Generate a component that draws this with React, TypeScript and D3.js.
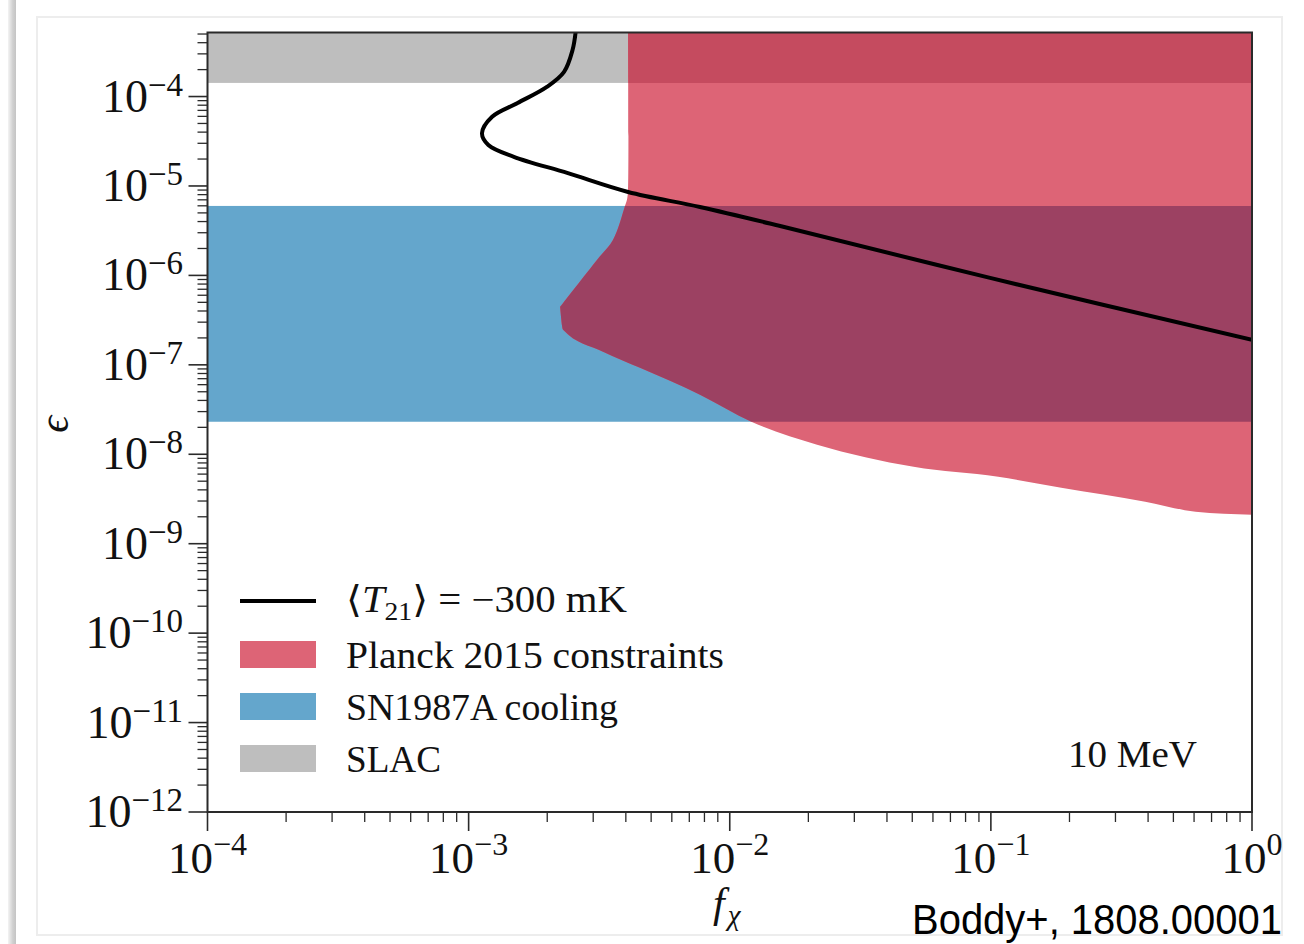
import React from "react";
import * as d3 from "d3";

// ---- data ----
const xTickExps = [-4, -3, -2, -1, 0];
const yTickExps = [-12, -11, -10, -9, -8, -7, -6, -5, -4];

const xDomain = [1e-4, 1];
const yDomain = [1e-12, 5.2e-4];

// <T21> = -300 mK curve
const t21F = [2.57e-3, 2.5e-3, 2.32e-3, 2.0e-3, 1.54e-3, 1.23e-3, 1.125e-3, 1.19e-3, 1.49e-3, 2.4e-3, 4.08e-3, 7.69e-3, 1.56e-2, 0.0993, 1.0];
const t21Eps = [5.3e-4, 3.31e-4, 1.89e-4, 1.29e-4, 8.46e-5, 5.94e-5, 3.88e-5, 2.87e-5, 2.12e-5, 1.39e-5, 8.57e-6, 5.82e-6, 3.57e-6, 9.37e-7, 1.9e-7];

// Planck 2015 excluded region: upper-left edge (down to the tip) and lower edge (from the tip)
const planckUpperF = [4.08e-3, 4.08e-3, 4.05e-3, 3.97e-3, 3.57e-3, 3.1e-3, 2.24e-3];
const planckUpperEps = [5.2e-4, 1e-5, 7.3e-6, 5.98e-6, 2.49e-6, 1.49e-6, 4.45e-7];
const planckLowerF = [2.24e-3, 2.3e-3, 3.27e-3, 4.53e-3, 7.69e-3, 1.21e-2, 2.16e-2, 5.06e-2, 0.1067, 0.186, 0.39, 0.608, 1.0];
const planckLowerEps = [4.45e-7, 2.46e-7, 1.4e-7, 9.25e-8, 4.62e-8, 2.31e-8, 1.28e-8, 7.25e-9, 5.6e-9, 4.23e-9, 2.95e-9, 2.28e-9, 2.11e-9];

// horizontal bands
const snBand = [2.31e-8, 5.98e-6];
const slacBand = [1.42e-4, 5.2e-4];

const legendLabels = ["Planck 2015 constraints", "SN1987A cooling", "SLAC"];
const legendColors = ["#dd6476", "#64a6cc", "#bebebe"];
const legendWidths = [378, 272, 95];

const COL = {
  red: "#dd6476",
  blue: "#64a6cc",
  gray: "#bebebe",
  purple: "#9c4162",
  darkRed: "#c54b5f",
};

const W = 1304;
const H = 944;
const L = 207.5, R = 1252, T = 32.5, B = 812;

const SERIF = "'Liberation Serif', 'DejaVu Serif', serif";

export default function App() {
  const x = d3.scaleLog().domain(xDomain).range([L, R]);
  const y = d3.scaleLog().domain(yDomain).range([B, T]);

  const curvePts: [number, number][] = t21F.map((f, i) => [x(f), y(t21Eps[i])]);
  const curvePath = d3.line().curve(d3.curveCatmullRom.alpha(0.5))(curvePts) || "";

  const upPts: [number, number][] = planckUpperF.map((f, i) => [x(f), y(planckUpperEps[i])]);
  const lowPts: [number, number][] = planckLowerF.map((f, i) => [x(f), y(planckLowerEps[i])]);
  const upPath = d3.line().curve(d3.curveCatmullRom.alpha(0.5))(upPts) || "";
  const lowPath = (d3.line().curve(d3.curveMonotoneX)(lowPts) || "").replace(/^M/, "L");
  const planckPath = `${upPath}${lowPath}L${x(1)},${y(yDomain[1])}Z`;

  const xMinor: number[] = [];
  for (let e = -4; e < 0; e++) for (let m = 2; m <= 9; m++) xMinor.push(m * Math.pow(10, e));
  const yMinor: number[] = [];
  for (let e = -12; e <= -4; e++)
    for (let m = 2; m <= 9; m++) {
      const v = m * Math.pow(10, e);
      if (v <= yDomain[1]) yMinor.push(v);
    }

  const bandRect = (lo: number, hi: number) => ({
    x: L,
    y: y(hi),
    width: R - L,
    height: y(lo) - y(hi),
  });
  const sn = bandRect(snBand[0], snBand[1]);
  const slac = bandRect(slacBand[0], slacBand[1]);

  return (
    <svg width={W} height={H} style={{ position: "absolute", left: 0, top: 0, background: "#fff" }}>
      <defs>
        <linearGradient id="shadow" x1="0" x2="1" y1="0" y2="0">
          <stop offset="0" stopColor="#f4f4f4" />
          <stop offset="0.6" stopColor="#d0d0d0" />
          <stop offset="1" stopColor="#c4c4c4" />
        </linearGradient>
        <clipPath id="plot">
          <rect x={L} y={T} width={R - L} height={B - T} />
        </clipPath>
        <clipPath id="snClip">
          <rect {...sn} />
        </clipPath>
        <clipPath id="slacClip">
          <rect {...slac} />
        </clipPath>
      </defs>

      {/* screenshot frame */}
      <rect x={8} y={0} width={8} height={H} fill="url(#shadow)" />
      <rect x={37} y={17} width={1245} height={918} fill="none" stroke="#ededed" strokeWidth={2} />

      {/* regions */}
      <g clipPath="url(#plot)">
        <rect {...slac} fill={COL.gray} />
        <rect {...sn} fill={COL.blue} />
        <path d={planckPath} fill={COL.red} />
        <path d={planckPath} fill={COL.purple} clipPath="url(#snClip)" />
        <path d={planckPath} fill={COL.darkRed} clipPath="url(#slacClip)" />
        <path d={curvePath} fill="none" stroke="#000" strokeWidth={4} strokeLinejoin="round" />
      </g>

      {/* spines */}
      <rect x={L} y={T} width={R - L} height={B - T} fill="none" stroke="#2a2a2a" strokeWidth={2} />

      {/* x ticks */}
      {xTickExps.map((e) => (
        <line key={"xt" + e} x1={x(Math.pow(10, e))} x2={x(Math.pow(10, e))} y1={B} y2={B + 19} stroke="#2a2a2a" strokeWidth={1.6} />
      ))}
      {xMinor.map((v, i) => (
        <line key={"xm" + i} x1={x(v)} x2={x(v)} y1={B} y2={B + 10} stroke="#2a2a2a" strokeWidth={1.3} />
      ))}
      {/* y ticks */}
      {yTickExps.map((e) => (
        <line key={"yt" + e} x1={L - 19} x2={L} y1={y(Math.pow(10, e))} y2={y(Math.pow(10, e))} stroke="#2a2a2a" strokeWidth={1.6} />
      ))}
      {yMinor.map((v, i) => (
        <line key={"ym" + i} x1={L - 10} x2={L} y1={y(v)} y2={y(v)} stroke="#2a2a2a" strokeWidth={1.3} />
      ))}

      {/* x tick labels */}
      {xTickExps.map((e) => (
        <text key={"xl" + e} x={x(Math.pow(10, e))} y={B + 61} textAnchor="middle" fontFamily={SERIF} fontSize={45} fill="#111">
          10
          <tspan fontSize={32} dy={-18}>{e < 0 ? "\u2212" + Math.abs(e) : String(e)}</tspan>
        </text>
      ))}
      {/* y tick labels */}
      {yTickExps.map((e) => (
        <text key={"yl" + e} x={183} y={y(Math.pow(10, e)) + 15} textAnchor="end" fontFamily={SERIF} fontSize={46} fill="#111">
          10
          <tspan fontSize={33} dy={-16}>{"\u2212" + Math.abs(e)}</tspan>
        </text>
      ))}

      {/* axis labels */}
      <text transform={`translate(68,${(T + B) / 2 + 2}) rotate(-90)`} textAnchor="middle" fontFamily={SERIF} fontStyle="italic" fontSize={42} fill="#111">
        {"\u03f5"}
      </text>
      <text x={713} y={917} fontFamily={SERIF} fontStyle="italic" fontSize={42} fill="#111">
        f<tspan fontSize={29} dy={8} dx={3}>{"\u03c7"}</tspan>
      </text>

      {/* legend */}
      <line x1={240} x2={316} y1={601} y2={601} stroke="#000" strokeWidth={4} />
      <text x={346} y={612} fontFamily={SERIF} fontSize={37} fill="#111" textLength={281} lengthAdjust="spacingAndGlyphs">
        {"\u27e8"}
        <tspan fontStyle="italic">T</tspan>
        <tspan fontSize={25} dy={8}>21</tspan>
        <tspan dy={-8}>{"\u27e9 = \u2212300 mK"}</tspan>
      </text>
      {legendLabels.map((lab, i) => (
        <g key={lab}>
          <rect x={240} y={641 + i * 52} width={76} height={27} fill={legendColors[i]} />
          <text x={346} y={668 + i * 52} fontFamily={SERIF} fontSize={37} fill="#111" textLength={legendWidths[i]} lengthAdjust="spacingAndGlyphs">
            {lab}
          </text>
        </g>
      ))}

      <text x={1197} y={767} textAnchor="end" fontFamily={SERIF} fontSize={38} fill="#111" textLength={129} lengthAdjust="spacingAndGlyphs">
        10 MeV
      </text>

      <text x={1282} y={934} textAnchor="end" fontFamily="'Liberation Sans', Arial, sans-serif" fontSize={42} fill="#000" textLength={370} lengthAdjust="spacingAndGlyphs">
        Boddy+, 1808.00001
      </text>
    </svg>
  );
}
